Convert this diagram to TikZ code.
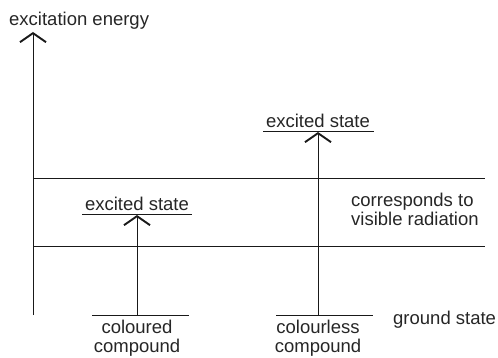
\documentclass[tikz,border=0pt]{standalone}
\usepackage{fontspec}
\setmainfont{Liberation Sans}
\usetikzlibrary{arrows.meta}
\begin{document}
\begin{tikzpicture}[x=1pt,y=-1pt,
  lbl/.style={inner sep=0pt, text=black!85, font=\fontsize{18.5}{19.5}\selectfont},
  ln/.style={line width=0.9pt, draw=black!90},
  arr/.style={ln, -{Straight Barb[length=9pt,width=26pt,line width=1.9pt]}}]
\useasboundingbox (0,0) rectangle (498,358);
% axis
\coordinate (ax0) at (33,315);
\coordinate (ax1) at (33,32);
\draw[arr] (ax0) -- (ax1);
\node[lbl, anchor=base west] (axl) at (9,26) {excitation energy};
% band lines
\coordinate (b1l) at (33,178); \coordinate (b1r) at (485,178);
\coordinate (b2l) at (33,246); \coordinate (b2r) at (485,246);
\draw[ln] (b1l) -- (b1r);
\draw[ln] (b2l) -- (b2r);
\node[lbl, anchor=north west, align=left] (vis) at (351,192.5) {corresponds to\\visible radiation};
% left (coloured)
\coordinate (g1l) at (92,315); \coordinate (g1r) at (189,315); \coordinate (g1m) at (137,315);
\draw[ln] (g1l) -- (g1r);
\coordinate (e1l) at (82,214); \coordinate (e1r) at (192,214); \coordinate (e1m) at (137,215);
\draw[ln] (e1l) -- (e1r);
\node[lbl, anchor=base] (e1) at (137,210.5) {excited state};
\draw[arr] (g1m) -- (e1m);
\node[lbl, anchor=north, align=center] (c1) at (137,319.5) {coloured\\compound};
% right (colourless)
\coordinate (g2l) at (276,315); \coordinate (g2r) at (373,315); \coordinate (g2m) at (318,315);
\draw[ln] (g2l) -- (g2r);
\coordinate (e2l) at (263,131); \coordinate (e2r) at (374,131); \coordinate (e2m) at (318,132);
\draw[ln] (e2l) -- (e2r);
\node[lbl, anchor=base] (e2) at (318,127.5) {excited state};
\draw[arr] (g2m) -- (e2m);
\node[lbl, anchor=north, align=center] (c2) at (318,319.5) {colourless\\compound};
\node[lbl, anchor=base west] (gs) at (393,324) {ground state};
\end{tikzpicture}
\end{document}
